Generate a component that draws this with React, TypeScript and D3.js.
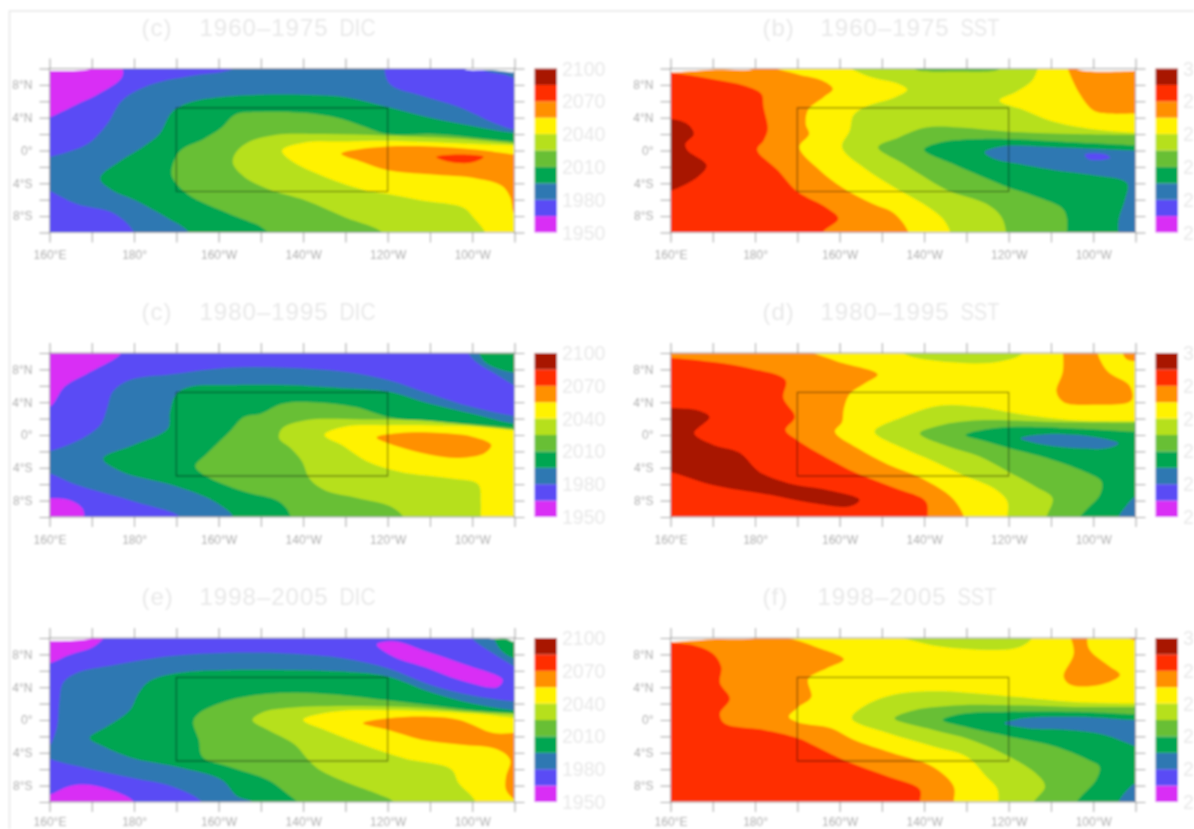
import React, { useEffect, useRef } from 'react';
import * as d3 from 'd3';

type Pt = [number, number];
type Layer = [number, Pt[]];

// shaded bands, low to high
const bandColors = ['#d92df5', '#5a4cf5', '#2f78b2', '#00a651', '#68bf36', '#b6e01e', '#fff200', '#ff9000', '#ff2e00', '#a81200'];
const gapColor = '#f7f7f7';

// colour bar labels sit on every second band edge
const dicLabels = ['1950', '1980', '2010', '2040', '2070', '2100'];
const sstLabels = ['2', '2', '2', '2', '2', '3'];

const lonTicks = [160, 170, 180, 190, 200, 210, 220, 230, 240, 250, 260, 270];
const lonLabels: Record<number, string> = { 160: '160°E', 180: '180°', 200: '160°W', 220: '140°W', 240: '120°W', 260: '100°W' };
const latTicks = [10, 8, 6, 4, 2, 0, -2, -4, -6, -8, -10];
const latLabels: Record<number, string> = { 8: '8°N', 4: '4°N', 0: '0°', [-4]: '4°S', [-8]: '8°S' };
const nino = { west: 190, east: 240, north: 5.2, south: -5 };

// contours, [lon east, lat]
const dic1960: Layer[] = [
  [0, [[158, 11], [177, 11], [177.2, 9], [172, 7], [166, 5.5], [160, 4], [158, 3.5]]],
  [2, [[207, 11], [239, 11], [240.5, 8.1], [247.8, 6.7], [256.8, 5.3], [265.9, 3.2], [272, 2.3], [272, -11], [180, -11], [180, -10], [175.4, -7.7], [166.3, -6.5], [160, -4.9], [158, -4.5], [158, -1], [160, -0.8], [169, 0.8], [173.6, 3.2], [177.2, 6.1], [184.4, 8.1], [193.5, 9.1], [202.6, 9.8]]],
  [2, [[262, 11], [272, 11], [272, 8.5], [268, 9.2], [262, 10]]],
  [3, [[272, 2], [260, 3], [250, 4], [240, 5.3], [230, 6.5], [220, 6.8], [210, 6.8], [200, 6.5], [193.5, 5.9], [189, 4.7], [186, 2], [182, 0.4], [177, -1.2], [172, -3.4], [175, -4.9], [180, -6], [187.5, -8.1], [193, -10], [193, -11], [272, -11]]],
  [4, [[272, 1], [260, 1.6], [250, 2], [240, 2], [234, 3], [228, 4], [220, 4.6], [209, 4.7], [204, 4.4], [200.5, 2.7], [196.5, 1.4], [191, 0], [189, -2], [189, -3.2], [192.6, -5.3], [202.5, -7.7], [210, -9.3], [211.5, -10], [212, -11], [272, -11]]],
  [5, [[272, 0.8], [258, 1.4], [240, 1.8], [225, 2], [213.4, 1.9], [207, 1], [203.9, -0.4], [203.4, -1.6], [206, -3.2], [211.6, -4.7], [220.6, -6.1], [229.7, -8.1], [238.7, -10], [239, -11], [272, -11]]],
  [6, [[272, 0.6], [240, 1.2], [229.7, 1.1], [220.6, 1], [215, 0], [217, -1.2], [225, -3.2], [235, -4.9], [240, -5.3], [248, -6.1], [258, -7], [260.5, -8.3], [263, -10], [263, -11], [272, -11]]],
  [7, [[229, -0.4], [234, 0.2], [240, 0.5], [250, 0.5], [261.4, 0.1], [270, -0.5], [272, -0.6], [272, -8], [270, -7.7], [269, -5.7], [267, -4.3], [261, -3.4], [250, -2.9], [240, -2.4], [234, -1.4]]],
  [8, [[251.5, -0.8], [257, -0.5], [262.7, -0.8], [259.5, -1.5], [254, -1.3]]],
  [-1, [[158, 11], [172, 11], [170, 10], [160, 9.7], [158, 9.7]]],
  [-1, [[258, 11], [258, 10], [265, 9.8], [270, 9.5], [272, 9.5], [272, 11]]],
];

const sst1960: Layer[] = [
  [9, [[158, 4], [164, 3.2], [165.5, 2], [163.5, 0.8], [164, 0], [168.5, -1.8], [166.5, -3.2], [160, -4.9], [158, -5]]],
  [7, [[160, 9.5], [170, 8.7], [177.5, 7.9], [181.5, 6.9], [182, 5.3], [183, 2.6], [182, 1.2], [180.5, 0.1], [185.4, -2.4], [190, -5], [197, -7], [199.7, -8.3], [196, -10], [196, -11], [272, -11], [272, 11], [158, 11], [158, 9.6]]],
  [6, [[182.7, 11], [182.7, 10.5], [190, 9.3], [196, 8.5], [198.4, 7.5], [196.2, 6.5], [192.6, 5], [192, 3.2], [192.8, 2], [190.5, 0.4], [195.3, -2.4], [200.6, -4.5], [207.8, -6.5], [213, -7.7], [216.3, -10], [216.3, -11], [272, -11], [272, 11]]],
  [5, [[200.6, 11], [206, 9.2], [214, 8.1], [216, 7.4], [213.2, 6.5], [206, 5.3], [203.3, 4.3], [202.4, 2.4], [200.6, 0.4], [206, -2.2], [212.3, -4.3], [220.4, -6.7], [224.4, -8.3], [226.2, -10], [226.2, -11], [272, -11], [272, 2.1], [259.9, 2.6], [250, 3.6], [243.7, 4.9], [237.8, 6.1], [241.9, 7.2], [245.5, 8.5], [246.8, 9.9], [247, 11]]],
  [4, [[217.6, 11], [217.6, 10], [228, 9.6], [238, 10], [238, 11]]],
  [7, [[253.5, 11], [254.5, 9.3], [256.8, 6.9], [260, 4.9], [263.4, 4.5], [270, 4.5], [272, 4.5], [272, 11]]],
  [4, [[209.1, 0.4], [214, 1.6], [220.4, 2.8], [228.4, 2.8], [240, 2.3], [255.4, 2], [270, 1.9], [272, 1.9], [272, -11], [239.4, -11], [239.4, -10], [238.3, -8.1], [234.7, -6.5], [225.7, -4.9], [221.2, -3.6], [215, -1.6]]],
  [3, [[220, 0.1], [224, 1], [233, 1.4], [240, 1.4], [255.4, 1], [270, 0.6], [272, 0.5], [272, -11], [253.7, -11], [253.7, -8.1], [252.6, -7], [246.4, -5.6], [240, -4.5], [233.8, -3.2], [226.6, -1.6]]],
  [2, [[234.3, -0.2], [238.3, 0.5], [250.8, 0.4], [270, 0], [272, 0], [272, -11], [266, -11], [266, -8.5], [267.5, -6], [268, -4], [259.8, -3], [250.8, -2.4], [241.9, -1.6], [236.5, -1]]],
  [1, [[258, -0.5], [263, -0.5], [264, -0.9], [259, -1.1]]],
  [-1, [[158, 11], [182, 11], [180, 10], [170, 9.85], [160, 9.5], [158, 9.5]]],
  [-1, [[256, 11], [256, 10], [270, 9.7], [272, 9.7], [272, 11]]],
];

const dic1980: Layer[] = [
  [0, [[158, 11], [177, 11], [177, 10], [169, 7.5], [163.6, 5.9], [160.5, 3.6], [158, 3]]],
  [0, [[158, -7.7], [164.5, -7.9], [167.7, -8.9], [168.3, -10], [168.3, -11], [158, -11]]],
  [2, [[272, 2.2], [260, 3.4], [250, 5], [240, 6.7], [229.7, 7.7], [216, 8.2], [202.5, 8.2], [189, 7.4], [179, 6.7], [175, 5.3], [173.6, 3.2], [172, 1.2], [166.3, -0.8], [160, -2], [158, -2.2], [158, -4.6], [160, -4.7], [166, -6], [180, -8.1], [190.8, -10], [190.8, -11], [272, -11]]],
  [2, [[258, 11], [260.5, 9.1], [266, 7.3], [270, 6], [272, 5.5], [272, 11]]],
  [3, [[261, 11], [263, 8.9], [268.6, 7.7], [270, 7.6], [272, 7.5], [272, 11]]],
  [3, [[272, 1.2], [260, 2.6], [250, 3.8], [240, 5.3], [229.7, 5.7], [216, 6.1], [202.5, 6.1], [193.5, 5.9], [190, 5], [188.5, 2.8], [188, 0.8], [180, -1.2], [172.7, -2.9], [177.2, -4.5], [189, -6.1], [199, -8.1], [203.5, -10], [203.5, -11], [272, -11]]],
  [4, [[272, 0.8], [260, 1.3], [250, 1.6], [240, 2.2], [232.4, 3.4], [222, 4], [215, 3.8], [210, 2.6], [206, 2.2], [202.6, 0.4], [197, -2.4], [194.5, -3.8], [197, -5], [206, -6.9], [213.5, -7.9], [216, -8.9], [217, -10], [217, -11], [272, -11]]],
  [5, [[272, 0.6], [260, 1.2], [248, 1.8], [234, 1.9], [220.6, 1.8], [215, 0.8], [214.3, -0.4], [217, -1.6], [219.7, -3.2], [221.5, -5.3], [225, -6.7], [233, -7.7], [240.6, -8.7], [243.7, -10], [244, -11], [272, -11]]],
  [6, [[272, 0.5], [261, 1], [240, 1.2], [229.7, 1], [225, 0], [229.7, -1.4], [235, -3.2], [243, -4.5], [255, -5.3], [261.4, -6], [262, -8.1], [262, -10], [262, -11], [272, -11]]],
  [7, [[237.4, -0.3], [242.4, 0.2], [250, 0.3], [260, -0.2], [264.5, -1.2], [263, -2.2], [257, -2.8], [250, -2.4], [242.4, -1.4]]],
];

const sst1980: Layer[] = [
  [9, [[158, 3.4], [160, 3.3], [166.5, 3], [169.2, 2.2], [165.6, 0.2], [170, -1.2], [176.4, -2.2], [181, -4.5], [188, -5.9], [197, -6.7], [204.7, -7.9], [202.4, -8.7], [193.5, -8.3], [183.6, -7.3], [170, -6.1], [160, -4.5], [158, -4.4]]],
  [7, [[158, 9.4], [160, 9.4], [170, 8.9], [179, 8.1], [187.2, 6.7], [186.7, 4.5], [189.4, 2.2], [187.2, 0.6], [189.9, -0.6], [197, -2.8], [204.2, -4.7], [213.2, -6.5], [220.4, -8.1], [220.8, -10], [220.8, -11], [272, -11], [272, 11], [158, 11]]],
  [6, [[190.8, 11], [198.8, 9.1], [209, 7.4], [206, 6.3], [202.4, 5], [201, 3.2], [200.6, 1.6], [198.9, 0.4], [204.2, -1.6], [211.4, -3.6], [219.5, -5.3], [226.7, -7.7], [229.4, -10], [229.4, -11], [272, -11], [272, 11]]],
  [7, [[252.8, 11], [252.8, 7.7], [251.3, 5.3], [253, 4], [260, 3.7], [269, 4.2], [268.6, 6], [263.5, 7.7], [261, 10], [261, 11]]],
  [7, [[267, 11], [267, 10], [268, 9.2], [272, 9], [272, 11]]],
  [5, [[214.5, 11], [215, 10], [228.4, 8.8], [238.3, 9], [243.3, 10], [243.3, 11]]],
  [5, [[208.3, 0.4], [215, 2.2], [224, 3.6], [233, 3.4], [242, 2.6], [255.4, 1.8], [270, 1.7], [272, 1.7], [272, -11], [239.7, -11], [239.7, -10], [239.7, -8.1], [236.5, -6.5], [229.3, -4.9], [222.2, -3.2], [215, -1.6]]],
  [4, [[219, 0.2], [224, 1.2], [233, 1.8], [251, 1.6], [270, 1.5], [272, 1.5], [272, -11], [249, -11], [249, -10], [250.4, -7.7], [246.4, -6.3], [240, -4.5], [233, -2.6], [225.7, -1.4]]],
  [3, [[229.8, 0], [234.8, 0.7], [242, 1], [255.4, 0.8], [270, 0.4], [272, 0.4], [272, -11], [257, -11], [257, -10], [261.6, -7.3], [262, -5.7], [259, -4.7], [249, -2.8], [240, -1.6], [234.8, -0.8]]],
  [2, [[242.8, -0.4], [249, 0.1], [259.8, -0.2], [266, -1], [263.4, -1.6], [255.4, -1.6], [246.4, -1]]],
  [2, [[272, -7.5], [270, -7.5], [267.4, -8.9], [266, -10], [266, -11], [272, -11]]],
];

const dic1998: Layer[] = [
  [0, [[158, 11], [174, 11], [170.9, 9.1], [164.5, 7.9], [160, 6.9], [158, 6.8]]],
  [0, [[158, -9.1], [160, -9.1], [164.5, -8.1], [169, -7.9], [175.4, -8.7], [180, -10], [180, -11], [158, -11]]],
  [0, [[237.4, 9.2], [241.4, 9.6], [249.5, 8.3], [258.6, 6.7], [267.2, 4.9], [265.9, 4], [256.8, 4.9], [249.5, 6.3], [241.4, 7.7]]],
  [2, [[272, 2.2], [260, 3], [250, 4.3], [240, 6.3], [229.7, 7.5], [216, 8.1], [202.5, 8.2], [189, 7.8], [175.4, 6.7], [166.3, 5.7], [163.2, 4.5], [162.3, 2], [161.8, -0.8], [160, -3.2], [158, -4], [160, -4.7], [169, -5.9], [180, -7.1], [189, -8.1], [196, -10], [196, -11], [272, -11]]],
  [2, [[260, 11], [260, 10], [265, 8.1], [270, 6.5], [272, 6], [272, 11]]],
  [3, [[264.5, 11], [266, 9.1], [267.7, 8.1], [270, 7.5], [272, 7.4], [272, 11]]],
  [3, [[272, 1.1], [260, 2], [250, 3.4], [240, 5.3], [229.7, 5.9], [216, 6.1], [202.5, 6.1], [190, 5.7], [183.5, 4.7], [181, 3.2], [179, 1.2], [173.6, -0.8], [169.5, -2.2], [172.7, -3.2], [180, -4.7], [190, -5.7], [200.7, -7.3], [204.4, -9.3], [208, -10], [208, -11], [272, -11]]],
  [4, [[272, 0.8], [260, 1.2], [250, 1.8], [240, 2.4], [229.7, 3], [220.6, 3.3], [211.6, 3.2], [202.5, 2.4], [195.3, 0.8], [194, -0.2], [195.3, -2.4], [196.2, -4.5], [202.5, -5.7], [211.6, -7.3], [216, -8.9], [218.4, -10], [218.4, -11], [272, -11]]],
  [5, [[272, 0.7], [260, 1], [248, 1.5], [234, 1.7], [217, 1.5], [210.7, 1], [208, 0], [211.6, -1.2], [218, -3], [220.6, -4.5], [223.4, -5.9], [229.7, -7.5], [237, -8.9], [241.4, -10], [241.4, -11], [272, -11]]],
  [6, [[272, 0.2], [260, 0.8], [240, 1.2], [227, 1], [220, 0], [225, -1.2], [234, -3], [244, -4.7], [255, -6], [256.8, -7.7], [260.5, -9.7], [261, -11], [272, -11]]],
  [7, [[234.2, -0.4], [240, 0.2], [250, 0.4], [257, 0], [265, -1.6], [270, -1.6], [272, -1.6], [272, -10], [270, -9.7], [268, -8.5], [268, -6.9], [269, -4.9], [266, -3.6], [257, -3], [248, -2.4], [240, -1.2]]],
  [-1, [[158, 11], [172, 11], [170, 10], [160, 9.6], [158, 9.6]]],
  [-1, [[264, 11], [264, 10], [268, 9.9], [270, 9.5], [272, 9.5], [272, 11]]],
];

const sst1998: Layer[] = [
  [7, [[158, 9.4], [160, 9.4], [165.6, 9.1], [170, 8.1], [172, 6.5], [171.7, 4.5], [174, 2.6], [171.7, 0.8], [172.7, -0.4], [181.8, -1.2], [190, -2.2], [194.3, -3.2], [201.5, -5], [211.4, -6.9], [219, -8.5], [219, -10], [219, -11], [272, -11], [272, 11], [158, 11]]],
  [6, [[184.5, 11], [193.5, 9.1], [201, 7.4], [197, 6.3], [192.6, 5], [193.3, 2.8], [190.3, 1.6], [188, 0.4], [190.3, -0.3], [198, -1], [203.3, -2.4], [212.3, -4], [222, -5.7], [227, -8.1], [227, -10], [227, -11], [272, -11], [272, 11]]],
  [7, [[254.3, 11], [255.4, 8.1], [253, 5.3], [254.6, 4.3], [261.7, 4.3], [266.3, 5.5], [263.4, 6.7], [259, 8.7], [258.6, 11]]],
  [7, [[268, 11], [268, 10.2], [270, 9.7], [272, 9.6], [272, 11]]],
  [5, [[211.4, 11], [219.5, 9.4], [229.3, 8.7], [242, 8.8], [245.5, 10], [245.5, 11]]],
  [5, [[202.9, 0.2], [206.9, 2], [214, 3.2], [224, 3.5], [233, 3.2], [242, 2.8], [255.4, 2.2], [270, 2], [272, 2], [272, -11], [237.4, -11], [237.4, -8.5], [234.7, -6.9], [230.2, -4.5], [222, -3.2], [211.4, -1.6]]],
  [4, [[213, 0.2], [217.7, 1.2], [228.4, 1.8], [240, 1.8], [255.4, 1.6], [270, 1.6], [272, 1.6], [272, -11], [246, -11], [246, -10], [248.6, -8.1], [246.4, -6.5], [238.3, -4], [231, -2.4], [222, -1.2]]],
  [3, [[224.4, 0], [228.4, 0.7], [240, 1], [255.4, 1], [270, 0.7], [272, 0.7], [272, -11], [256.2, -11], [256.2, -10], [260.7, -7.3], [261.5, -5.7], [259, -4.9], [250.8, -3.2], [240, -2], [229.5, -0.8]]],
  [2, [[239, -0.4], [243.5, 0.2], [255.4, 0.4], [270, 0], [272, 0], [272, -3.5], [270, -3.2], [262.5, -1.8], [253.5, -1.2], [244.5, -1]]],
  [2, [[272, -7.7], [270, -7.7], [267.4, -8.9], [266, -10], [266, -11], [272, -11]]],
  [-1, [[158, 11], [184, 11], [180, 10], [170, 9.85], [160, 9.5], [158, 9.5]]],
];

const panels = [
  { tag: '(c)', years: '1960–1975', name: 'DIC', base: 1, layers: dic1960, left: 49.5, top: 68.5, kind: 'dic', shift: 0, labelGap: 8 },
  { tag: '(b)', years: '1960–1975', name: 'SST', base: 8, layers: sst1960, left: 670.5, top: 68.5, kind: 'sst', shift: 0, labelGap: 8 },
  { tag: '(c)', years: '1980–1995', name: 'DIC', base: 1, layers: dic1980, left: 49.5, top: 353, kind: 'dic', shift: 0, labelGap: 8 },
  { tag: '(d)', years: '1980–1995', name: 'SST', base: 8, layers: sst1980, left: 670.5, top: 353, kind: 'sst', shift: 0, labelGap: 8 },
  { tag: '(e)', years: '1998–2005', name: 'DIC', base: 1, layers: dic1998, left: 49.5, top: 638, kind: 'dic', shift: 0, labelGap: 5 },
  { tag: '(f)', years: '1998–2005', name: 'SST', base: 8, layers: sst1998, left: 670.5, top: 638, kind: 'sst', shift: -3, labelGap: 5 },
];

// run contour edges that leave the frame further out, so the spline stays flat inside it
const padEdges = (pts: Pt[]): Pt[] =>
  pts.flatMap((p, i) => {
    const q = pts[(i + 1) % pts.length];
    if (p[0] >= 272 && q[0] >= 272) return [p, [282, p[1]], [282, q[1]]] as Pt[];
    if (p[0] <= 158 && q[0] <= 158) return [p, [148, p[1]], [148, q[1]]] as Pt[];
    if (p[1] >= 11 && q[1] >= 11) return [p, [p[0], 14], [q[0], 14]] as Pt[];
    if (p[1] <= -11 && q[1] <= -11) return [p, [p[0], -14], [q[0], -14]] as Pt[];
    return [p];
  });

const App = () => {
  const svgRef = useRef<SVGSVGElement>(null);

  useEffect(() => {
    const svg = d3.select(svgRef.current);
    svg.selectAll('*').remove();

    const width = 465;
    const height = 164;
    const font = '"Liberation Sans", Arial, sans-serif';

    svg.append('defs').append('filter')
      .attr('id', 'soft')
      .attr('filterUnits', 'userSpaceOnUse')
      .attr('x', 0).attr('y', 0).attr('width', 1194).attr('height', 829)
      .append('feGaussianBlur')
      .attr('stdDeviation', 0.9);

    const root = svg.append('g').attr('filter', 'url(#soft)');
    root.append('rect').attr('width', 1194).attr('height', 829).attr('fill', '#fff');

    // faint page frame
    root.append('path')
      .attr('d', 'M1194,11H9.5V829')
      .attr('fill', 'none')
      .attr('stroke', '#e6e6e6')
      .attr('stroke-width', 1.5);

    const x = d3.scaleLinear().domain([160, 270]).range([0, width]);
    const y = d3.scaleLinear().domain([10, -10]).range([0, height]);
    const contour = d3.line<Pt>()
      .x(d => x(d[0]))
      .y(d => y(d[1]))
      .curve(d3.curveCatmullRomClosed.alpha(0.5));

    panels.forEach((panel, i) => {
      const g = root.append('g').attr('transform', `translate(${panel.left},${panel.top})`);
      const clipId = `clip-${i}`;
      g.append('clipPath').attr('id', clipId)
        .append('rect').attr('width', width).attr('height', height);

      // Filled contours, painted in order
      const plot = g.append('g').attr('clip-path', `url(#${clipId})`);
      plot.append('rect')
        .attr('width', width)
        .attr('height', height)
        .attr('fill', bandColors[panel.base]);
      plot.selectAll('.band')
        .data(panel.layers)
        .enter()
        .append('path')
        .attr('class', 'band')
        .attr('d', d => contour(padEdges(d[1])))
        .attr('fill', d => (d[0] < 0 ? gapColor : bandColors[d[0]]));

      // Nino box
      g.append('rect')
        .attr('x', x(nino.west))
        .attr('y', y(nino.north))
        .attr('width', x(nino.east) - x(nino.west))
        .attr('height', y(nino.south) - y(nino.north))
        .attr('fill', 'none')
        .attr('stroke', '#000')
        .attr('stroke-opacity', 0.6);

      g.append('rect')
        .attr('width', width)
        .attr('height', height)
        .attr('fill', 'none')
        .attr('stroke', '#a0a0a0');

      // Axes
      const styleAxis = (sel: any) => {
        sel.select('.domain').remove();
        sel.selectAll('line').attr('stroke', '#9a9a9a');
        sel.selectAll('text')
          .attr('fill', '#a8a8a8')
          .style('font-family', font)
          .style('font-size', '12px');
      };
      g.append('g')
        .call(d3.axisTop(x).tickValues(lonTicks).tickSize(10).tickFormat(() => ''))
        .call(styleAxis);
      g.append('g')
        .attr('transform', `translate(0,${height})`)
        .call(d3.axisBottom(x).tickValues(lonTicks).tickSize(10).tickPadding(panel.labelGap).tickFormat(d => lonLabels[+d] || ''))
        .call(styleAxis);
      g.append('g')
        .call(d3.axisLeft(y).tickValues(latTicks).tickSize(10).tickPadding(7).tickFormat(d => latLabels[+d] || ''))
        .call(styleAxis);
      g.append('g')
        .attr('transform', `translate(${width},0)`)
        .call(d3.axisRight(y).tickValues(latTicks).tickSize(10).tickFormat(() => ''))
        .call(styleAxis);

      // Title
      const titleParts = [
        { text: panel.tag, at: 92 },
        { text: panel.years, at: 150 + panel.shift },
        { text: panel.name, at: 290 + panel.shift, squeeze: panel.kind === 'dic' ? 36 : 39 },
      ];
      g.selectAll('.title')
        .data(titleParts)
        .enter()
        .append('text')
        .attr('class', 'title')
        .attr('x', d => d.at)
        .attr('y', -33)
        .attr('fill', '#e8e8e8')
        .attr('textLength', d => d.squeeze ?? null)
        .attr('lengthAdjust', d => (d.squeeze ? 'spacingAndGlyphs' : null))
        .style('font-family', font)
        .style('font-size', '24px')
        .style('letter-spacing', d => (d.squeeze ? '0' : '1px'))
        .text(d => d.text);

      // Colour bar
      const labels = panel.kind === 'dic' ? dicLabels : sstLabels;
      const barScale = d3.scaleLinear().domain([0, bandColors.length]).range([height, 0]);
      const bar = g.append('g').attr('transform', `translate(${width + 20},0)`);
      bar.selectAll('rect')
        .data(bandColors)
        .enter()
        .append('rect')
        .attr('y', (d, j) => barScale(j + 1))
        .attr('width', 22.5)
        .attr('height', (d, j) => barScale(j) - barScale(j + 1))
        .attr('fill', d => d);
      bar.selectAll('text')
        .data(labels)
        .enter()
        .append('text')
        .attr('x', 27.5)
        .attr('y', (d, j) => barScale(j * 2))
        .attr('dy', '0.36em')
        .attr('fill', '#e8e8e8')
        .style('font-family', font)
        .style('font-size', '19.5px')
        .text(d => d);
    });
  }, []);

  return (
    <svg
      ref={svgRef}
      width={1194}
      height={829}
      style={{ position: 'absolute', left: 0, top: 0, display: 'block' }}
    />
  );
};

export default App;
